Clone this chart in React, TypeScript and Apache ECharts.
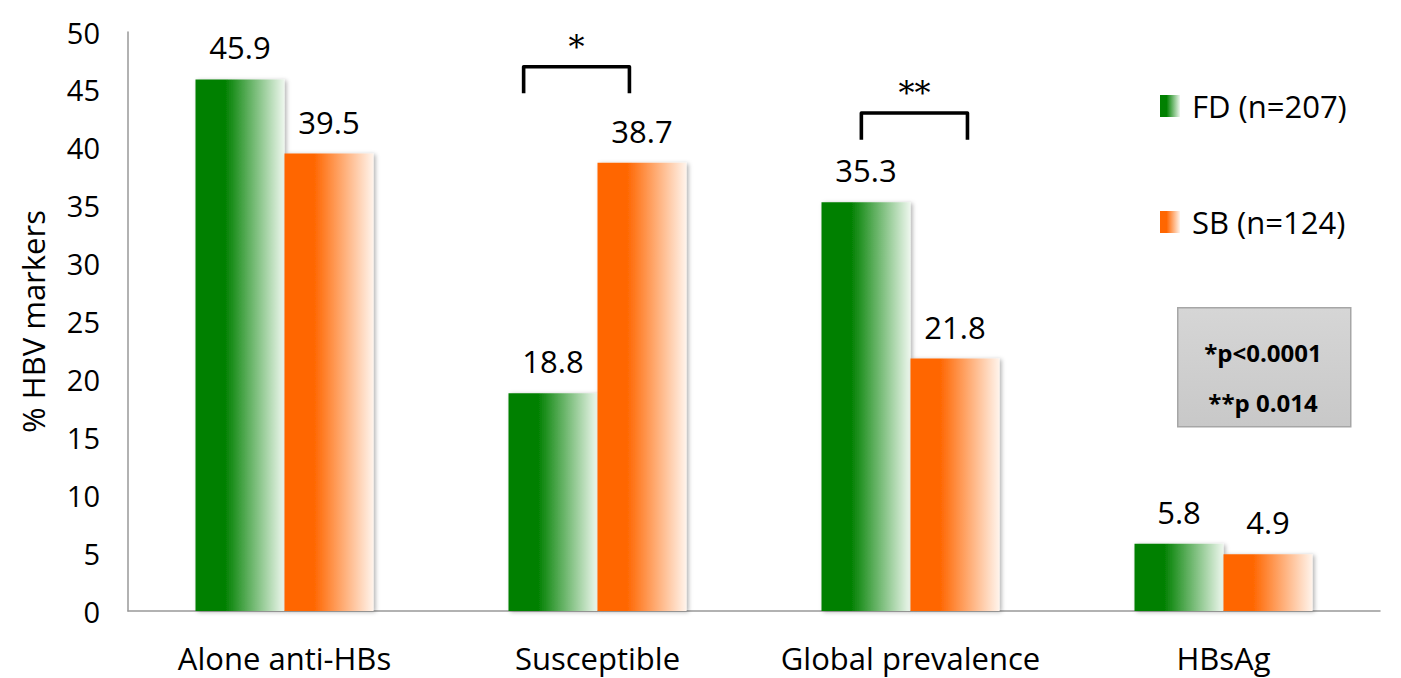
import React, { useEffect, useRef } from "react";
import * as echarts from "echarts";

const categories = ["Alone anti-HBs", "Susceptible", "Global prevalence", "HBsAg"];
const fdValues = [45.9, 18.8, 35.3, 5.8];
const sbValues = [39.5, 38.7, 21.8, 4.9];
const seriesNames = ["FD (n=207)", "SB (n=124)"];
const yTicks = { min: 0, max: 50, interval: 5 };
// significance brackets: category, top value, leg-bottom value, left/right offset (fraction of band), label
const bracketCats = ["Susceptible", "Global prevalence"];
const bracketTop = [47.0, 43.0];
const bracketBottom = [44.7, 40.7];
const bracketLeft = [-0.236, -0.157];
const bracketRight = [0.102, 0.182];
const bracketLabels = ["*", "**"];
const pValueLines = ["*p<0.0001", "**p 0.014"];

const FONT = "'Open Sans', sans-serif";

export default function App() {
  const ref = useRef<HTMLDivElement>(null);
  useEffect(() => {
    if (!ref.current) return;
    const chart = echarts.init(ref.current, null, { renderer: "svg" });
    const green = new echarts.graphic.LinearGradient(0, 0, 1, 0, [
      { offset: 0, color: "#008000" },
      { offset: 0.33, color: "#008000" },
      { offset: 1, color: "#eef7ee" },
    ]);
    const orange = new echarts.graphic.LinearGradient(0, 0, 1, 0, [
      { offset: 0, color: "#ff6600" },
      { offset: 0.33, color: "#ff6600" },
      { offset: 1, color: "#fff4ec" },
    ]);
    const barCommon = {
      type: "bar",
      barWidth: 89,
      barGap: "0%",
      label: {
        show: true,
        position: "top",
        distance: 16,
        color: "#000",
        fontFamily: FONT,
        fontSize: 31,
        lineHeight: 32,
      },
    };
    const bracketData = bracketCats.map((c, i) => [
      c,
      bracketTop[i],
      bracketBottom[i],
      bracketLeft[i],
      bracketRight[i],
      i,
    ]);
    chart.setOption({
      animation: false,
      grid: { left: 128, right: 21, top: 32, bottom: 67 },
      legend: {
        data: seriesNames,
        orient: "vertical",
        left: 1155,
        top: 85,
        itemWidth: 20,
        itemHeight: 22,
        itemGap: 84,
        icon: "rect",
        selectedMode: false,
        textStyle: {
          fontFamily: FONT,
          fontSize: 31,
          lineHeight: 32,
          color: "#000",
          padding: [0, 0, 0, 7],
        },
      },
      xAxis: {
        type: "category",
        data: categories,
        axisLine: { lineStyle: { color: "#999", width: 1.5 } },
        axisTick: { show: false },
        axisLabel: {
          interval: 0,
          margin: 31,
          color: "#000",
          fontFamily: FONT,
          fontSize: 31,
          lineHeight: 32,
        },
      },
      yAxis: {
        type: "value",
        min: yTicks.min,
        max: yTicks.max,
        interval: yTicks.interval,
        name: "% HBV markers",
        nameLocation: "middle",
        nameGap: 80,
        nameTextStyle: { fontFamily: FONT, fontSize: 31, color: "#000" },
        splitLine: { show: false },
        axisLine: { show: true, lineStyle: { color: "#999", width: 1.5 } },
        axisTick: { show: false },
        axisLabel: {
          margin: 28,
          color: "#000",
          fontFamily: FONT,
          fontSize: 29,
        },
      },
      series: [
        {
          ...barCommon,
          name: seriesNames[0],
          data: fdValues,
          itemStyle: {
            color: green,
            shadowColor: "rgba(0,0,0,0.3)",
            shadowBlur: 4,
            shadowOffsetX: 2,
            shadowOffsetY: 1,
          },
        },
        {
          ...barCommon,
          name: seriesNames[1],
          data: sbValues,
          itemStyle: {
            color: orange,
            shadowColor: "rgba(0,0,0,0.3)",
            shadowBlur: 4,
            shadowOffsetX: 2,
            shadowOffsetY: 1,
          },
        },
        {
          type: "custom",
          name: "brackets",
          data: bracketData,
          encode: { x: 0, y: 1 },
          silent: true,
          z: 5,
          renderItem: (params: any, api: any) => {
            const idx = api.value(0);
            const band = api.size([1, 0])[0];
            const top = api.coord([idx, api.value(1)]);
            const bottom = api.coord([idx, api.value(2)]);
            const xl = top[0] + api.value(3) * band;
            const xr = top[0] + api.value(4) * band;
            const label = bracketLabels[api.value(5)];
            return {
              type: "group",
              children: [
                {
                  type: "polyline",
                  shape: {
                    points: [
                      [xl, bottom[1]],
                      [xl, top[1]],
                      [xr, top[1]],
                      [xr, bottom[1]],
                    ],
                  },
                  style: {
                    stroke: "#000",
                    lineWidth: 3.6,
                    fill: null,
                    lineJoin: "round",
                    lineCap: "butt",
                  },
                },
                {
                  type: "text",
                  x: (xl + xr) / 2,
                  y: top[1] - 20,
                  style: {
                    text: label,
                    fontFamily: "'DejaVu Serif', serif",
                    fontSize: 32,
                    fill: "#000",
                    align: "center",
                    verticalAlign: "middle",
                  },
                },
              ],
            };
          },
        },
      ],
      graphic: [
        {
          type: "rect",
          left: 1177,
          top: 307,
          shape: { width: 173, height: 119 },
          style: {
            fill: new echarts.graphic.LinearGradient(0, 0, 0, 1, [
              { offset: 0, color: "#d6d6d6" },
              { offset: 1, color: "#c8c8c8" },
            ]),
            stroke: "#a6a6a6",
            lineWidth: 1.5,
          },
        },
        {
          type: "text",
          x: 1263,
          y: 352,
          style: {
            text: pValueLines[0],
            fontFamily: FONT,
            fontWeight: "bold",
            fontSize: 24,
            fill: "#000",
            align: "center",
            verticalAlign: "middle",
          },
        },
        {
          type: "text",
          x: 1263,
          y: 402,
          style: {
            text: pValueLines[1],
            fontFamily: FONT,
            fontWeight: "bold",
            fontSize: 24,
            fill: "#000",
            align: "center",
            verticalAlign: "middle",
          },
        },
      ],
    });
    return () => chart.dispose();
  }, []);
  return (
    <div
      ref={ref}
      style={{ position: "absolute", left: 0, top: 0, width: 1401, height: 678, background: "#fff" }}
    />
  );
}
